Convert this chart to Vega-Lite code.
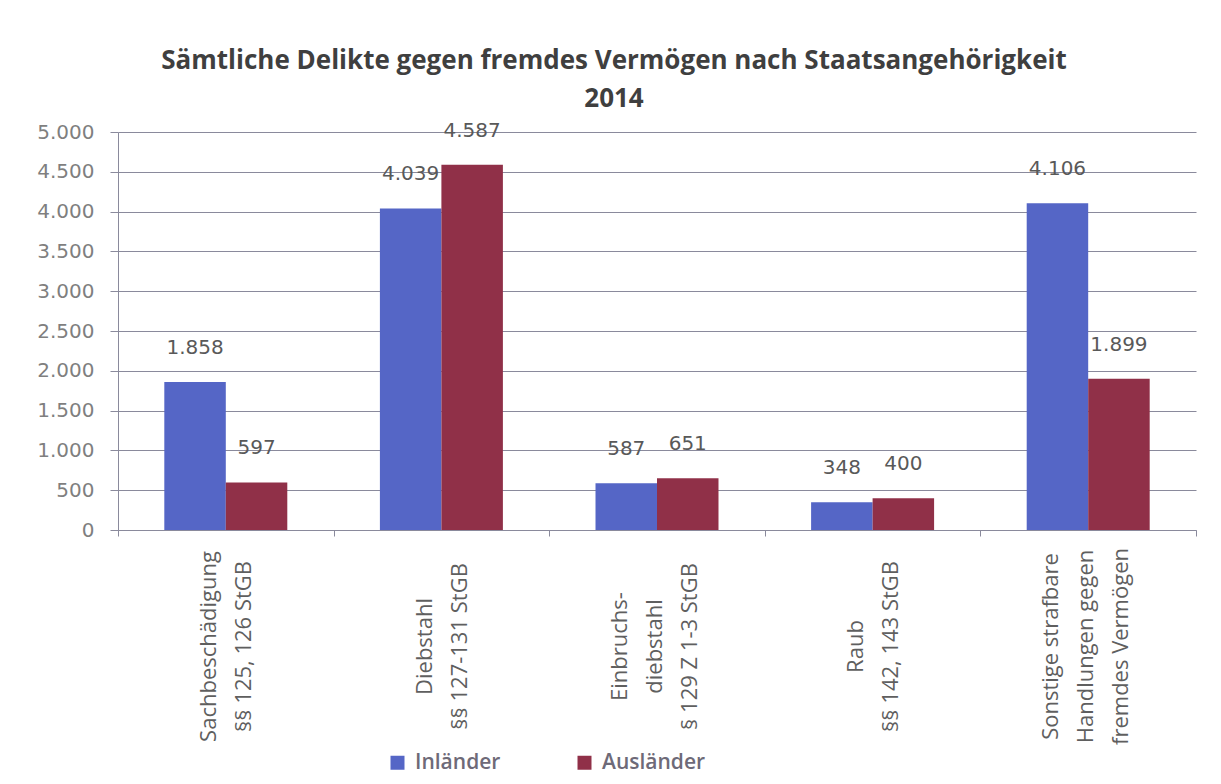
{
  "$schema": "https://vega.github.io/schema/vega-lite/v6.json",
  "width": 1078,
  "height": 398,
  "autosize": {"type": "none"},
  "padding": {"left": 118, "top": 132, "right": 25, "bottom": 254},
  "background": "#ffffff",
  "config": {
    "view": {"stroke": null},
    "locale": {"number": {"decimal": ",", "thousands": ".", "grouping": [3], "currency": ["", " €"]}}
  },
  "title": {
    "text": ["Sämtliche Delikte gegen fremdes Vermögen nach Staatsangehörigkeit", "2014"],
    "font": "Open Sans",
    "fontSize": 26,
    "fontWeight": "bold",
    "color": "#3f3f3f",
    "lineHeight": 38,
    "anchor": "middle",
    "dx": -43,
    "offset": 9
  },
  "data": {
    "values": [
      {"kategorie": "Sachbeschädigung|§§ 125, 126 StGB", "gruppe": "Inländer", "wert": 1858},
      {"kategorie": "Sachbeschädigung|§§ 125, 126 StGB", "gruppe": "Ausländer", "wert": 597},
      {"kategorie": "Diebstahl|§§ 127-131 StGB", "gruppe": "Inländer", "wert": 4039},
      {"kategorie": "Diebstahl|§§ 127-131 StGB", "gruppe": "Ausländer", "wert": 4587},
      {"kategorie": "Einbruchs-|diebstahl|§ 129 Z 1-3 StGB", "gruppe": "Inländer", "wert": 587},
      {"kategorie": "Einbruchs-|diebstahl|§ 129 Z 1-3 StGB", "gruppe": "Ausländer", "wert": 651},
      {"kategorie": "Raub|§§ 142, 143 StGB", "gruppe": "Inländer", "wert": 348},
      {"kategorie": "Raub|§§ 142, 143 StGB", "gruppe": "Ausländer", "wert": 400},
      {"kategorie": "Sonstige strafbare|Handlungen gegen|fremdes Vermögen", "gruppe": "Inländer", "wert": 4106},
      {"kategorie": "Sonstige strafbare|Handlungen gegen|fremdes Vermögen", "gruppe": "Ausländer", "wert": 1899}
    ]
  },
  "encoding": {
    "x": {
      "field": "kategorie",
      "type": "nominal",
      "sort": null,
      "title": null,
      "scale": {"paddingInner": 0, "paddingOuter": 0},
      "axis": {
        "tickBand": "extent",
        "labelAngle": -90,
        "labelAlign": "center",
        "labelBaseline": "middle",
        "labelExpr": "split(datum.label, '|')",
        "labelOffset": {"condition": {"test": "length(split(datum.label, '|')) > 2", "value": -38}, "value": -17},
        "labelFont": "Open Sans",
        "labelFontSize": 22,
        "labelColor": "#5f5f5f",
        "labelLineHeight": 35,
        "labelPadding": 110,
        "labelLimit": 400,
        "tickSize": 6,
        "tickColor": "#8a8a9c",
        "domainColor": "#8a8a9c",
        "grid": false
      }
    },
    "xOffset": {"field": "gruppe", "type": "nominal", "sort": ["Inländer", "Ausländer"], "scale": {"paddingInner": 0, "paddingOuter": 0.753}},
    "y": {
      "field": "wert",
      "type": "quantitative",
      "title": null,
      "scale": {"domain": [0, 5000], "nice": false},
      "axis": {
        "values": [0, 500, 1000, 1500, 2000, 2500, 3000, 3500, 4000, 4500, 5000],
        "format": ",.0f",
        "labelFont": "DejaVu Sans",
        "labelFontSize": 20,
        "labelColor": "#7f7f7f",
        "labelPadding": 16,
        "tickSize": 8,
        "tickColor": "#8a8a9c",
        "domainColor": "#8a8a9c",
        "gridColor": "#8a8a9c",
        "gridWidth": 1
      }
    }
  },
  "layer": [
    {
      "mark": {"type": "bar"},
      "encoding": {
        "color": {
          "field": "gruppe",
          "type": "nominal",
          "sort": ["Inländer", "Ausländer"],
          "scale": {"domain": ["Inländer", "Ausländer"], "range": ["#5566c6", "#903048"]},
          "legend": {
            "title": null,
            "orient": "none",
            "direction": "horizontal",
            "legendX": 269,
            "legendY": 620,
            "symbolType": "square",
            "symbolSize": 196,
            "symbolStrokeWidth": 0,
            "labelFont": "Open Sans",
            "labelFontSize": 21,
            "labelFontWeight": 600,
            "labelColor": "#6e6a78",
            "labelOffset": 7,
            "columnPadding": 73
          }
        }
      }
    },
    {
      "mark": {"type": "text", "baseline": "bottom", "dy": -24, "font": "DejaVu Sans", "fontSize": 20, "color": "#595959"},
      "encoding": {
        "text": {"field": "wert", "type": "quantitative", "format": ","}
      }
    }
  ]
}
